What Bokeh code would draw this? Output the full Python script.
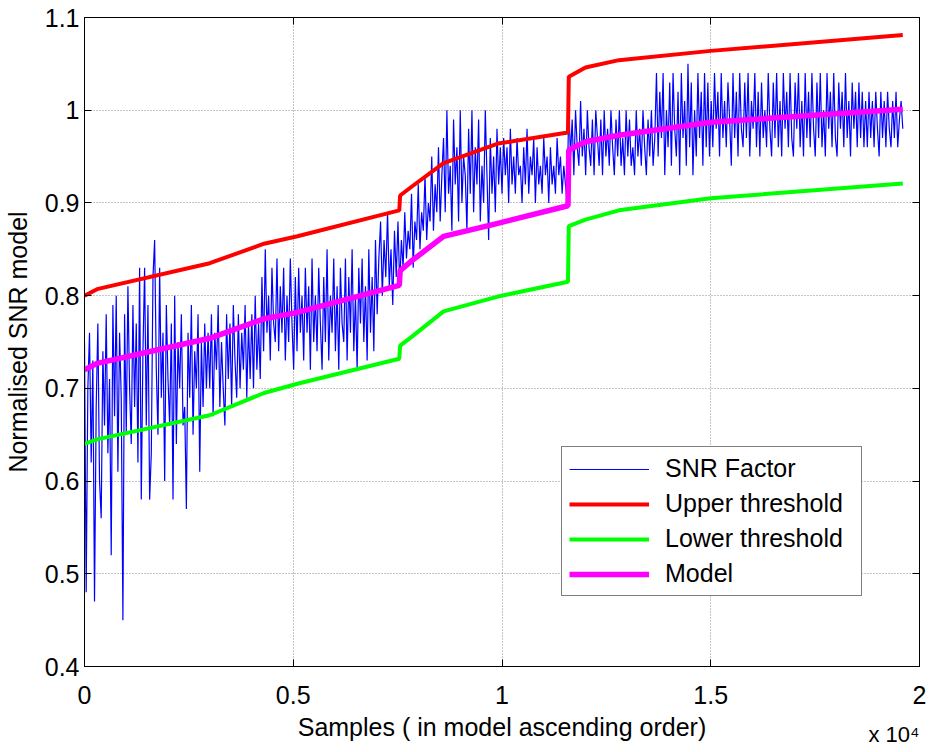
from bokeh.plotting import figure
from bokeh.models import (Range1d, FixedTicker, CustomJSTickFormatter, LinearAxis,
                          Legend, Title, ColumnDataSource)
from bokeh.embed import file_html
from bokeh.resources import INLINE

# ---------------- data ----------------
# SNR factor, read segment by segment (segment sample bounds, values inside)
seg_bounds = [0, 3000, 4250, 5250, 7050, 7550, 8600, 10000, 11600, 13700, 15050, 18750, 19600]
snr_seg_a = [0.75, 0.48, 0.70, 0.76, 0.62, 0.73, 0.47, 0.68, 0.77, 0.60,
             0.56, 0.74, 0.66, 0.78, 0.63, 0.71, 0.52, 0.79, 0.67, 0.80,
             0.61, 0.76, 0.69, 0.45, 0.78, 0.65, 0.81, 0.70, 0.64, 0.79,
             0.68, 0.77, 0.62, 0.83, 0.58, 0.74, 0.83, 0.66, 0.79, 0.58,
             0.63, 0.82, 0.86, 0.72, 0.65, 0.83, 0.69, 0.76, 0.60, 0.79,
             0.71, 0.66, 0.77, 0.58, 0.80, 0.64, 0.75, 0.70, 0.78, 0.66,
             0.68, 0.57, 0.76, 0.69, 0.79, 0.65, 0.74, 0.70, 0.78, 0.61,
             0.75, 0.68, 0.77, 0.70, 0.76]
snr_seg_b = [0.70, 0.78, 0.67, 0.76, 0.72, 0.79, 0.68, 0.75, 0.70, 0.66,
             0.78, 0.71, 0.77, 0.68, 0.79, 0.73, 0.69, 0.78, 0.70, 0.76,
             0.72, 0.79, 0.69, 0.77, 0.71, 0.78, 0.70, 0.80, 0.72, 0.77, 0.71]
snr_seg_c = [0.82, 0.74, 0.85, 0.76, 0.80, 0.73, 0.83, 0.77, 0.75, 0.84,
             0.74, 0.81, 0.76, 0.83, 0.73, 0.80, 0.75, 0.84, 0.77, 0.72,
             0.82, 0.74, 0.83, 0.76, 0.80]
snr_seg_d = [0.73, 0.83, 0.76, 0.81, 0.72, 0.84, 0.75, 0.80, 0.74, 0.83,
             0.77, 0.72, 0.82, 0.75, 0.85, 0.73, 0.80, 0.76, 0.84, 0.74,
             0.81, 0.72, 0.83, 0.77, 0.75, 0.84, 0.73, 0.82, 0.76, 0.85,
             0.74, 0.80, 0.72, 0.83, 0.77, 0.84, 0.75, 0.81, 0.73, 0.85,
             0.76, 0.82, 0.74, 0.86, 0.78]
snr_seg_e = [0.84, 0.88, 0.80, 0.86, 0.82, 0.89, 0.81, 0.85, 0.79, 0.87, 0.82, 0.88]
snr_seg_f = [0.81, 0.86, 0.83, 0.89, 0.84, 0.87, 0.85, 0.91, 0.83, 0.88,
             0.86, 0.92, 0.85, 0.89, 0.87, 0.93, 0.86, 0.90, 0.88, 0.95,
             0.87, 0.92, 0.89, 0.96, 0.88, 0.93]
snr_seg_g = [0.97, 0.89, 1.00, 0.91, 0.94, 0.87, 0.99, 0.92, 0.96, 0.88,
             1.00, 0.90, 0.95, 0.93, 0.87, 0.98, 0.91, 1.00, 0.89, 0.96,
             0.92, 0.99, 0.88, 0.94, 0.90, 1.00, 0.93, 0.86, 0.97, 0.91,
             0.95, 0.89, 0.98, 0.92, 0.96]
snr_seg_h = [0.91, 0.97, 0.93, 0.96, 0.90, 0.98, 0.92, 0.95, 0.91, 0.97,
             0.93, 0.94, 0.90, 0.96, 0.92, 0.98, 0.91, 0.95, 0.93, 0.97,
             0.90, 0.96, 0.92, 0.94, 0.91, 0.97, 0.93, 0.95, 0.90, 0.96,
             0.92, 0.94, 0.91, 0.97, 0.93, 0.95, 0.91, 0.94, 0.92, 0.90]
snr_seg_i = [1.01, 0.95, 0.99, 0.93, 1.00, 0.96, 0.94, 1.01, 0.95, 0.98,
             0.93, 1.00, 0.96, 0.94, 0.99, 0.93, 1.00, 0.97, 0.94, 0.99,
             0.93, 1.00, 0.95, 0.98, 0.94, 1.00, 0.96, 0.93, 0.99, 0.95,
             1.00, 0.94, 0.97, 0.93, 1.00, 0.95, 0.99, 0.94, 0.96, 0.93,
             1.00, 0.95, 0.98, 0.94, 1.00, 0.96, 0.93, 0.99, 0.95, 1.00,
             0.94, 0.97]
snr_seg_j = [1.04, 0.95, 1.02, 0.97, 1.04, 0.93, 1.00, 0.96, 1.03, 0.94,
             1.04, 0.98, 0.95, 1.02, 0.93, 1.04, 0.97, 1.01, 0.94, 1.05,
             0.96, 1.03, 0.93, 1.00, 0.95, 1.04, 0.97, 1.02, 0.94, 1.04,
             0.96, 1.03, 0.95, 1.01]
snr_seg_k = [0.96, 1.04, 0.98, 1.02, 0.95, 1.04, 0.97, 1.01, 0.96, 1.03,
             0.99, 0.94, 1.04, 0.97, 1.02, 0.95, 1.04, 0.98, 0.96, 1.03,
             0.97, 1.04, 0.95, 1.01, 0.98, 1.04, 0.96, 1.02, 0.95, 1.03,
             0.97, 1.00, 0.96, 1.04, 0.98, 0.95, 1.03, 0.97, 1.04, 0.96,
             1.01, 0.95, 1.04, 0.98, 1.02, 0.96, 1.04, 0.97, 0.95, 1.03,
             0.98, 1.04, 0.96, 1.01, 0.95, 1.04, 0.97, 1.02, 0.96, 1.04,
             0.98, 0.95, 1.03, 0.97, 1.04, 0.96, 1.00, 0.95, 1.04, 0.98,
             1.02, 0.96, 1.04, 0.97, 0.95, 1.03, 0.98, 1.02, 0.96, 1.04,
             0.97, 1.01, 0.95, 1.03, 0.98, 1.02, 0.96, 1.03,
             0.97, 1.02, 0.96, 1.01]
snr_seg_l = [0.96, 1.02, 0.97, 1.01, 0.96, 1.02, 0.98, 0.95, 1.02, 0.97,
             1.01, 0.96, 1.02, 0.98, 0.96, 1.01, 0.97, 1.02, 0.96, 0.99, 1.01, 0.98]
snr_segments = [snr_seg_a, snr_seg_b, snr_seg_c, snr_seg_d, snr_seg_e, snr_seg_f,
                snr_seg_g, snr_seg_h, snr_seg_i, snr_seg_j, snr_seg_k, snr_seg_l]

thr_samples = [0, 300, 3000, 4300, 5100, 7540, 7560, 7850, 8600, 9900,
               11580, 11600, 12000, 12800, 15000, 19600]
upper_thr = [0.800, 0.807, 0.835, 0.856, 0.864, 0.892, 0.908, 0.918, 0.943, 0.964,
             0.976, 1.036, 1.046, 1.054, 1.064, 1.081]
model_vals = [0.720, 0.727, 0.754, 0.775, 0.782, 0.811, 0.827, 0.838, 0.864, 0.878,
              0.897, 0.957, 0.966, 0.973, 0.987, 1.001]
lower_thr = [0.640, 0.645, 0.671, 0.695, 0.705, 0.732, 0.746, 0.756, 0.783, 0.799,
             0.815, 0.875, 0.882, 0.892, 0.905, 0.921]

x_ticks = [0, 5000, 10000, 15000, 20000]
y_ticks = [0.4, 0.5, 0.6, 0.7, 0.8, 0.9, 1.0, 1.1]

# sample index positions of the SNR values (evenly spread inside each segment)
snr_x, snr_y = [], []
for s, vals in enumerate(snr_segments):
    a, b = seg_bounds[s], seg_bounds[s + 1]
    last = (s == len(snr_segments) - 1)
    n = len(vals)
    for k, v in enumerate(vals):
        frac = k / (n - 1) if last else k / n
        snr_x.append(a + (b - a) * frac)
        snr_y.append(v)

FONT = "Liberation Sans"

# ---------------- figure ----------------
p = figure(frame_width=835, frame_height=649,
           min_border_left=78, min_border_right=9, min_border_top=17, min_border_bottom=82,
           x_range=Range1d(0, 20000), y_range=Range1d(0.4, 1.1),
           output_backend="svg", toolbar_location=None,
           background_fill_color="white", border_fill_color="white")

p.outline_line_color = "black"
p.outline_line_width = 1

xfmt = CustomJSTickFormatter(code="return (tick/10000).toString();")
yfmt = CustomJSTickFormatter(code="return (Math.round(tick*10)/10).toString();")
blank = CustomJSTickFormatter(code="return '';")

for ax, tk, fmt in ((p.xaxis[0], x_ticks, xfmt), (p.yaxis[0], y_ticks, yfmt)):
    ax.ticker = FixedTicker(ticks=tk)
    ax.formatter = fmt
    ax.major_tick_in = 7
    ax.major_tick_out = 0
    ax.minor_tick_in = 0
    ax.minor_tick_out = 0
    ax.axis_line_color = "black"
    ax.major_tick_line_color = "black"
    ax.major_label_text_font = FONT
    ax.major_label_text_font_size = "25px"
    ax.major_label_text_color = "black"
    ax.axis_label_text_font = FONT
    ax.axis_label_text_font_size = "25px"
    ax.axis_label_text_font_style = "normal"
    ax.axis_label_text_color = "black"

p.xaxis[0].axis_label = "Samples ( in model ascending order)"
p.xaxis[0].major_label_standoff = 19
p.xaxis[0].axis_label_standoff = 6
p.yaxis[0].axis_label = "Normalised SNR model"
p.yaxis[0].major_label_standoff = 5
p.yaxis[0].axis_label_standoff = 10

# box-style ticks on top and right
top_ax = LinearAxis(ticker=FixedTicker(ticks=x_ticks), formatter=blank,
                    major_tick_in=7, major_tick_out=0, minor_tick_in=0, minor_tick_out=0,
                    major_label_standoff=0, major_label_text_font_size="1px",
                    axis_line_color="black", major_tick_line_color="black")
right_ax = LinearAxis(ticker=FixedTicker(ticks=y_ticks), formatter=blank,
                      major_tick_in=7, major_tick_out=0, minor_tick_in=0, minor_tick_out=0,
                      major_label_standoff=0, major_label_text_font_size="1px",
                      axis_line_color="black", major_tick_line_color="black")
p.add_layout(top_ax, "above")
p.add_layout(right_ax, "right")

for g in (p.xgrid[0], p.ygrid[0]):
    g.grid_line_color = "#7f7f7f"
    g.grid_line_dash = "1 2"
    g.grid_line_width = 1
    g.grid_line_alpha = 0.9
p.xgrid[0].ticker = FixedTicker(ticks=x_ticks)
p.ygrid[0].ticker = FixedTicker(ticks=y_ticks)

snr_src = ColumnDataSource(dict(x=snr_x, y=snr_y))
thr_src = ColumnDataSource(dict(x=thr_samples, up=upper_thr, lo=lower_thr, mo=model_vals))

r_snr = p.line("x", "y", source=snr_src, line_color="#0000ff", line_width=1.2)
r_up = p.line("x", "up", source=thr_src, line_color="#ff0000", line_width=4)
r_lo = p.line("x", "lo", source=thr_src, line_color="#00ff00", line_width=4)
r_mo = p.line("x", "mo", source=thr_src, line_color="#ff00ff", line_width=5.5)

legend = Legend(items=[("SNR Factor", [r_snr]), ("Upper threshold", [r_up]),
                       ("Lower threshold", [r_lo]), ("Model", [r_mo])],
                location=(477, 70), orientation="vertical",
                label_text_font=FONT, label_text_font_size="25px", label_text_color="black",
                glyph_width=80, glyph_height=28, label_height=28, label_width=189,
                spacing=6, padding=7, margin=0, label_standoff=16,
                border_line_color="black", border_line_width=1,
                background_fill_color="white", background_fill_alpha=1.0)
p.add_layout(legend, "center")

# "x 10^4" scale note at the lower right, under the axis
scale_note = Title(text="x 10\u2074", align="right", vertical_align="top",
                   text_font=FONT, text_font_size="22px", text_font_style="normal",
                   text_color="black", standoff=-44, offset=0)
p.add_layout(scale_note, "below")

open("out.html", "w").write(file_html(p, INLINE))
